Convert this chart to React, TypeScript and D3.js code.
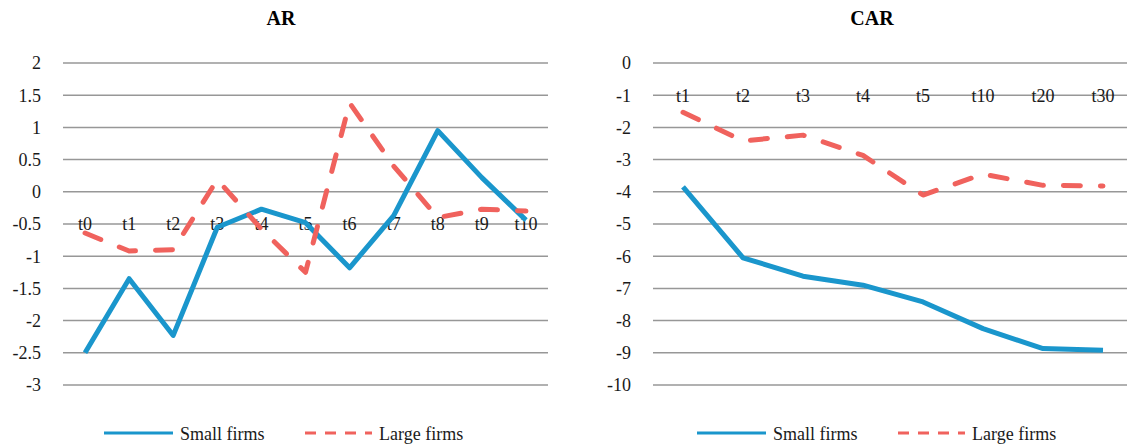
import React, { useEffect, useRef } from 'react';
import * as d3 from 'd3';

const arCategories = ['t0', 't1', 't2', 't3', 't4', 't5', 't6', 't7', 't8', 't9', 't10'];
const arSmall = [-2.5, -1.35, -2.23, -0.55, -0.27, -0.48, -1.18, -0.37, 0.95, 0.22, -0.44];
const arLarge = [-0.64, -0.92, -0.9, 0.19, -0.58, -1.25, 1.38, 0.4, -0.4, -0.27, -0.3];
const arTicks = [2, 1.5, 1, 0.5, 0, -0.5, -1, -1.5, -2, -2.5, -3];

const carCategories = ['t1', 't2', 't3', 't4', 't5', 't10', 't20', 't30'];
const carSmall = [-3.85, -6.05, -6.62, -6.9, -7.42, -8.25, -8.87, -8.92];
const carLarge = [-1.53, -2.42, -2.24, -2.87, -4.1, -3.45, -3.8, -3.82];
const carTicks = [0, -1, -2, -3, -4, -5, -6, -7, -8, -9, -10];

const seriesNames = ['Small firms', 'Large firms'];

const BLUE = '#1a96cc';
const RED = '#f0625d';
const FONT = '"Liberation Serif", "Times New Roman", Times, serif';

interface PanelOpts {
  title: string;
  titleX: number;
  categories: string[];
  small: number[];
  large: number[];
  ticks: number[];
  left: number;
  right: number;
  tickX: number;
  labelAt: number;
  legendX: number;
}

function drawPanel(svg: d3.Selection<SVGSVGElement, unknown, null, undefined>, o: PanelOpts) {
  const g = svg.append('g');
  const x = d3.scalePoint<string>().domain(o.categories).range([o.left, o.right]).padding(0.5);
  const y = d3.scaleLinear()
    .domain([d3.min(o.ticks) as number, d3.max(o.ticks) as number])
    .range([385, 63]);

  // title
  g.append('text')
    .attr('x', o.titleX).attr('y', 25)
    .attr('text-anchor', 'middle')
    .attr('font-weight', 'bold').attr('font-size', 20)
    .text(o.title);

  // gridlines + y labels
  o.ticks.forEach(t => {
    g.append('line')
      .attr('x1', o.left).attr('x2', o.right)
      .attr('y1', y(t)).attr('y2', y(t))
      .attr('stroke', '#979797').attr('stroke-width', 1.5);
    g.append('text')
      .attr('x', o.tickX).attr('y', y(t)).attr('dy', '0.35em')
      .attr('text-anchor', 'end')
      .attr('font-size', 18).attr('fill', '#1a1a1a')
      .text(String(t));
  });

  // category labels sit on one gridline
  o.categories.forEach(c => {
    g.append('text')
      .attr('x', x(c) as number).attr('y', y(o.labelAt)).attr('dy', '0.35em')
      .attr('text-anchor', 'middle')
      .attr('font-size', 18).attr('fill', '#1a1a1a')
      .text(c);
  });

  const line = d3.line<number>()
    .x((_, i) => x(o.categories[i]) as number)
    .y(d => y(d));

  g.append('path')
    .datum(o.small)
    .attr('fill', 'none').attr('stroke', BLUE).attr('stroke-width', 5)
    .attr('stroke-linejoin', 'round')
    .attr('d', line);

  g.append('path')
    .datum(o.large)
    .attr('fill', 'none').attr('stroke', RED).attr('stroke-width', 5)
    .attr('stroke-linecap', 'round').attr('stroke-linejoin', 'round')
    .attr('stroke-dasharray', '17 20')
    .attr('d', line);

  // legend
  const lg = g.append('g').attr('transform', `translate(${o.legendX},433)`);
  lg.append('line').attr('x1', 0).attr('x2', 69).attr('stroke', BLUE).attr('stroke-width', 3);
  lg.append('text').attr('x', 76).attr('y', 6.5)
    .attr('font-size', 18).attr('fill', '#1a1a1a').text(seriesNames[0]);
  lg.append('line').attr('x1', 201).attr('x2', 268).attr('stroke', RED).attr('stroke-width', 3)
    .attr('stroke-dasharray', '11 9');
  lg.append('text').attr('x', 275).attr('y', 6.5)
    .attr('font-size', 18).attr('fill', '#1a1a1a').text(seriesNames[1]);
}

export default function App() {
  const svgRef = useRef<SVGSVGElement>(null);

  useEffect(() => {
    if (!svgRef.current) return;
    const svg = d3.select(svgRef.current);
    svg.selectAll('*').remove();

    drawPanel(svg, {
      title: 'AR', titleX: 281,
      categories: arCategories, small: arSmall, large: arLarge, ticks: arTicks,
      left: 63, right: 548, tickX: 41, labelAt: -0.5, legendX: 104,
    });
    drawPanel(svg, {
      title: 'CAR', titleX: 872,
      categories: carCategories, small: carSmall, large: carLarge, ticks: carTicks,
      left: 653, right: 1133, tickX: 631, labelAt: -1, legendX: 697,
    });
  }, []);

  return (
    <svg
      ref={svgRef}
      width={1127}
      height={445}
      style={{ position: 'absolute', left: 0, top: 0, background: '#fff', fontFamily: FONT }}
    />
  );
}
